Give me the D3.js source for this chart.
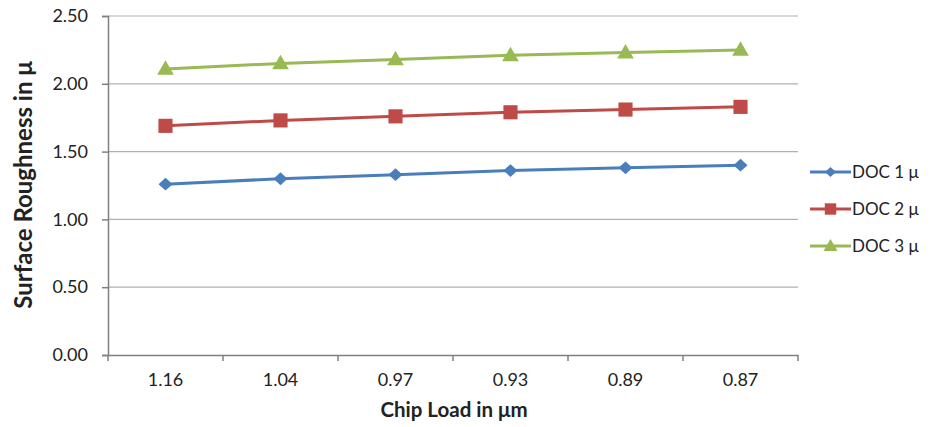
<!DOCTYPE html>
<html>
<head>
<meta charset="utf-8">
<script src="https://cdn.jsdelivr.net/npm/d3@7/dist/d3.min.js"></script>
<style>
  html, body { margin: 0; padding: 0; background: #fff; }
  svg { display: block; font-family: Lato, "Open Sans", sans-serif; }
</style>
</head>
<body>
<svg id="chart" width="933" height="427"></svg>
<script>
// Chip load categories (x axis) and surface roughness per depth of cut
const chipLoads = ["1.16", "1.04", "0.97", "0.93", "0.89", "0.87"];
const doc1 = [1.26, 1.30, 1.33, 1.36, 1.38, 1.40];
const doc2 = [1.69, 1.73, 1.76, 1.79, 1.81, 1.83];
const doc3 = [2.11, 2.15, 2.18, 2.21, 2.23, 2.25];
const seriesNames = ["DOC 1 \u03bc", "DOC 2 \u03bc", "DOC 3 \u03bc"];
const seriesColors = ["#4a7ebb", "#be4b48", "#98b954"];
const yTicks = [0, 0.5, 1.0, 1.5, 2.0, 2.5];

const series = [doc1, doc2, doc3].map((vals, i) => ({
  name: seriesNames[i], color: seriesColors[i], shape: i,
  values: vals.map((v, j) => ({ cat: chipLoads[j], v }))
}));

const svg = d3.select("#chart");
const plotLeft = 108, plotRight = 798, plotTop = 16, plotBottom = 355;
const fontFamily = "Lato, 'Open Sans', sans-serif";

const x = d3.scaleBand().domain(chipLoads).range([plotLeft, plotRight]);
const y = d3.scaleLinear().domain([0, 2.5]).range([plotBottom, plotTop]);

// Horizontal gridlines
svg.append("g").selectAll("line").data(yTicks.filter(d => d > 0)).join("line")
  .attr("x1", plotLeft).attr("x2", plotRight)
  .attr("y1", d => y(d)).attr("y2", d => y(d))
  .attr("stroke", "#b0b0b0").attr("stroke-width", 1.2);

// Y axis
const yAxis = svg.append("g").attr("transform", `translate(${plotLeft},0)`)
  .call(d3.axisLeft(y).tickValues(yTicks).tickFormat(d3.format(".2f")).tickSize(6).tickPadding(14));
yAxis.attr("font-family", fontFamily);
yAxis.select(".domain").attr("stroke", "#808080").attr("stroke-width", 1.5);
yAxis.selectAll(".tick line").attr("stroke", "#808080").attr("stroke-width", 1.5);
yAxis.selectAll("text").attr("font-size", 18).attr("fill", "#222");

// X axis with ticks at category boundaries
const xAxis = svg.append("g").attr("transform", `translate(0,${plotBottom})`)
  .call(d3.axisBottom(x).tickSize(0).tickPadding(18));
xAxis.attr("font-family", fontFamily);
xAxis.select(".domain").attr("stroke", "#808080").attr("stroke-width", 1.5);
xAxis.selectAll("text").attr("font-size", 18).attr("fill", "#222");
const bounds = chipLoads.map(c => x(c)).concat([plotRight]);
xAxis.selectAll("line.bound").data(bounds).join("line").attr("class", "bound")
  .attr("x1", d => d).attr("x2", d => d).attr("y1", 0).attr("y2", 6)
  .attr("stroke", "#808080").attr("stroke-width", 1.5);

// Marker symbols: a wide diamond, a square and a triangle
const wideDiamond = {
  draw(context, size) {
    const w = Math.sqrt(size) / 2, h = w * 0.92;
    context.moveTo(0, -h); context.lineTo(w, 0); context.lineTo(0, h); context.lineTo(-w, 0);
    context.closePath();
  }
};
const symbolTypes = [wideDiamond, d3.symbolSquare, d3.symbolTriangle];
const markerSizes = [196, 200, 120];
const legendSizes = [120, 130, 85];

const cx = d => x(d.cat) + x.bandwidth() / 2;
const line = d3.line().x(cx).y(d => y(d.v));

const g = svg.append("g");
series.forEach(s => {
  g.append("path").datum(s.values).attr("d", line)
    .attr("fill", "none").attr("stroke", s.color).attr("stroke-width", 3);
  g.selectAll(null).data(s.values).join("path")
    .attr("transform", d => `translate(${cx(d)},${y(d.v) + (s.shape === 2 ? 1 : 0)})`)
    .attr("d", d3.symbol().type(symbolTypes[s.shape]).size(markerSizes[s.shape]))
    .attr("fill", s.color);
});

// Axis titles
svg.append("text").attr("x", 454).attr("y", 417).attr("text-anchor", "middle")
  .attr("font-size", 20.5).attr("font-weight", "bold").attr("fill", "#222")
  .text("Chip Load in \u03bcm");
svg.append("text").attr("transform", "translate(32,185) rotate(-90)")
  .attr("text-anchor", "middle").attr("font-size", 24).attr("font-weight", "bold").attr("fill", "#222")
  .text("Surface Roughness in \u03bc");

// Legend
const legend = svg.append("g");
series.forEach((s, i) => {
  const ly = 172 + i * 37;
  legend.append("line").attr("x1", 810).attr("x2", 851).attr("y1", ly).attr("y2", ly)
    .attr("stroke", s.color).attr("stroke-width", 3);
  legend.append("path").attr("transform", `translate(830.5,${ly + (i === 2 ? 1 : 0)})`)
    .attr("d", d3.symbol().type(symbolTypes[i]).size(legendSizes[i]))
    .attr("fill", s.color);
  legend.append("text").attr("x", 852).attr("y", ly + 6)
    .attr("font-size", 17).attr("fill", "#222").text(s.name);
});
</script>
</body>
</html>
